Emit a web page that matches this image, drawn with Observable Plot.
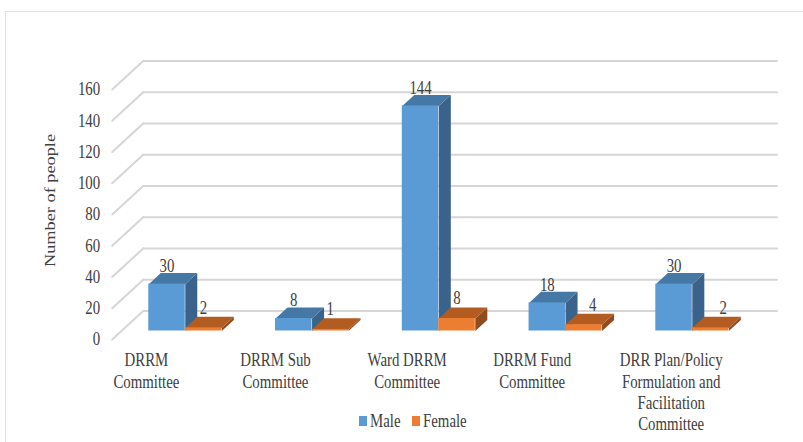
<!DOCTYPE html>
<html>
<head>
<meta charset="utf-8">
<script src="https://cdn.jsdelivr.net/npm/d3@7"></script>
<script src="https://cdn.jsdelivr.net/npm/@observablehq/plot@0.6"></script>
<style>
html,body{margin:0;padding:0;background:#fff;overflow:hidden}
#wrap{position:relative;width:803px;height:442px;overflow:hidden}
#frame{position:absolute;left:5px;top:11px;right:-5px;bottom:-5px;border-left:1.5px solid #e2e2e2;border-top:1.5px solid #e2e2e2;pointer-events:none}
#legend{position:absolute;left:0;top:0;font:18px "Liberation Serif",serif;color:#404040;width:0;height:0}
#legend i{position:absolute;width:8px;height:10px}
#legend span{position:absolute;transform:scaleX(.825);transform-origin:left top;white-space:nowrap;line-height:20px}
</style>
</head>
<body>
<div id="wrap"></div>
<script>
const categories = ["DRRM\nCommittee", "DRRM Sub\nCommittee", "Ward DRRM\nCommittee", "DRRM Fund\nCommittee", "DRR Plan/Policy\nFormulation and\nFacilitation\nCommittee"];
const male = [30, 8, 144, 18, 30];
const female = [2, 1, 8, 4, 2];
const yTicks = [0, 20, 40, 60, 80, 100, 120, 140, 160];
const seriesNames = ["Male", "Female"];
const maleShades = {front: "#5b9bd5", top: "#4678a6", side: "#39638a"};
const femaleShades = {front: "#ed7d31", top: "#b35c22", side: "#8f4c1c"};
const labelShift = [-0.23, -0.212, -0.173, -0.187, -0.09];
const femaleLabelShift = [0, 0, 0, 0.07, 0.1];

const wallX = 0.2446, wallY = 18.3;
const barOffset = 0.0765, barW = 0.288, barDX = 0.0947, barDY = 7.1, barBase = 5.44;

function faces(values, side, c) {
  const left = i => i + barOffset + (side === 0 ? -barW : 0);
  const rows = values.map((v, i) => ({i, v, a: left(i), b: left(i) + barW, lo: barBase, hi: barBase + v}));
  const top = rows.flatMap(r => [
    {id: r.i, x: r.a, y: r.hi}, {id: r.i, x: r.b, y: r.hi},
    {id: r.i, x: r.b + barDX, y: r.hi + barDY}, {id: r.i, x: r.a + barDX, y: r.hi + barDY}
  ]);
  const sideFace = rows.flatMap(r => [
    {id: r.i, x: r.b, y: r.lo}, {id: r.i, x: r.b, y: r.hi},
    {id: r.i, x: r.b + barDX, y: r.hi + barDY}, {id: r.i, x: r.b + barDX, y: r.lo + barDY}
  ]);
  return [
    Plot.line(sideFace, {x: "x", y: "y", z: "id", fill: c.side, stroke: "none"}),
    Plot.line(top, {x: "x", y: "y", z: "id", fill: c.top, stroke: "none"}),
    Plot.rect(rows, {x1: "a", x2: "b", y1: "lo", y2: "hi", fill: c.front})
  ];
}

const backLines = yTicks.flatMap(t => [
  {t, x: -0.5 + wallX, y: t + wallY}, {t, x: 4.5 + wallX, y: t + wallY}
]);
const sideLines = yTicks.flatMap(t => [
  {t, x: -0.5, y: t}, {t, x: -0.5 + wallX, y: t + wallY}
]);
const textColor = "#404040";
const valueLabels = (values, side, shift) => Plot.text(values.map((v, i) => ({
  v, x: i + barOffset + (side === 0 ? -barW / 2 : barW / 2) + shift[i], y: barBase + v + barDY + (side === 0 ? 0.6 : 2)
})), {x: "x", y: "y", text: d => String(d.v), lineAnchor: "bottom", fontSize: 18, fill: textColor});

const chart = Plot.plot({
  width: 803, height: 442,
  marginLeft: 111.7, marginRight: 57.5, marginTop: 89, marginBottom: 103,
  x: {domain: [-0.5, 4.5], axis: null},
  y: {domain: [0, 160]},
  style: {fontFamily: "'Liberation Serif',serif", fontSize: "18px", background: "transparent", overflow: "visible"},
  marks: [
    Plot.line(backLines, {x: "x", y: "y", z: "t", stroke: "#d6d6d6", strokeWidth: 2}),
    Plot.line(sideLines, {x: "x", y: "y", z: "t", stroke: "#d6d6d6", strokeWidth: 2}),
    ...faces(male, 0, maleShades),
    ...faces(female, 1, femaleShades),
    valueLabels(male, 0, [0, 0, 0, 0, 0]),
    valueLabels(female, 1, femaleLabelShift),
    Plot.axisY({ticks: yTicks, tickSize: 0, tickPadding: 12, label: null, fontSize: 18, color: textColor, fill: textColor, tickFormat: d => String(d)}),
    Plot.text(categories, {
      x: (d, i) => i + labelShift[i], y: () => -7.5, text: d => d,
      lineAnchor: "top", lineHeight: 1.18, fontSize: 18, fill: textColor
    }),
    Plot.text(["Number of people"], {
      frameAnchor: "left", textAnchor: "middle", rotate: -90, dx: -62, dy: -14, fontSize: 15, fill: textColor
    })
  ]
});

const wrap = document.getElementById("wrap");
wrap.appendChild(chart);

// The source picture's text is narrower than the font's natural width.
chart.querySelectorAll("text").forEach(t => {
  const isRot = (t.textContent === "Number of people");
  const factor = isRot ? 1.22 : 0.825;
  const parts = t.querySelectorAll("tspan");
  (parts.length ? [...parts] : [t]).forEach(el => {
    const len = el.getComputedTextLength();
    el.setAttribute("textLength", (len * factor).toFixed(2));
    el.setAttribute("lengthAdjust", "spacingAndGlyphs");
  });
});

const legend = document.createElement("div");
legend.id = "legend";
const legendColors = [maleShades.front, femaleShades.front];
const swatchX = [359, 412], textX = [370, 423];
seriesNames.forEach((name, i) => {
  const sw = document.createElement("i");
  sw.style.cssText = `left:${swatchX[i]}px;top:416px;background:${legendColors[i]}`;
  const tx = document.createElement("span");
  tx.textContent = name;
  tx.style.cssText = `left:${textX[i]}px;top:411px`;
  legend.append(sw, tx);
});
wrap.appendChild(legend);

const frame = document.createElement("div");
frame.id = "frame";
wrap.appendChild(frame);
</script>
</body>
</html>
